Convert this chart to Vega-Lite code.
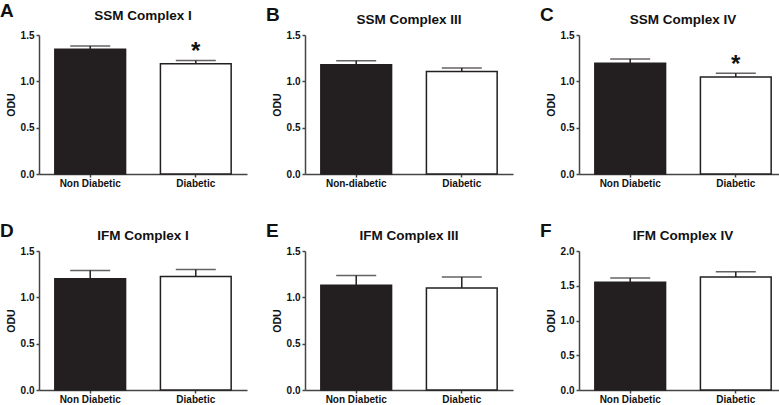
{
  "$schema": "https://vega.github.io/schema/vega-lite/v6.json",
  "padding": {"left": 0, "top": 1, "right": 0, "bottom": 0},
  "background": "white",
  "data": {"values": [
    {"panel": "A", "label": "Non Diabetic", "kind": "ND", "odu": 1.345, "upper": 1.38, "sig": ""},
    {"panel": "A", "label": "Diabetic", "kind": "D", "odu": 1.19, "upper": 1.225, "sig": "*"},
    {"panel": "B", "label": "Non-diabetic", "kind": "ND", "odu": 1.18, "upper": 1.222, "sig": ""},
    {"panel": "B", "label": "Diabetic", "kind": "D", "odu": 1.105, "upper": 1.145, "sig": ""},
    {"panel": "C", "label": "Non Diabetic", "kind": "ND", "odu": 1.195, "upper": 1.24, "sig": ""},
    {"panel": "C", "label": "Diabetic", "kind": "D", "odu": 1.047, "upper": 1.087, "sig": "*"},
    {"panel": "D", "label": "Non Diabetic", "kind": "ND", "odu": 1.2, "upper": 1.29, "sig": ""},
    {"panel": "D", "label": "Diabetic", "kind": "D", "odu": 1.225, "upper": 1.3, "sig": ""},
    {"panel": "E", "label": "Non Diabetic", "kind": "ND", "odu": 1.13, "upper": 1.235, "sig": ""},
    {"panel": "E", "label": "Diabetic", "kind": "D", "odu": 1.1, "upper": 1.22, "sig": ""},
    {"panel": "F", "label": "Non Diabetic", "kind": "ND", "odu": 1.55, "upper": 1.61, "sig": ""},
    {"panel": "F", "label": "Diabetic", "kind": "D", "odu": 1.625, "upper": 1.7, "sig": ""}
  ]},
  "config": {
    "font": "Liberation Sans",
    "view": {"stroke": null},
    "axis": {
      "grid": false,
      "labelFont": "Liberation Sans", "labelFontWeight": "bold", "labelFontSize": 10, "labelColor": "#111",
      "titleFont": "Liberation Sans", "titleFontWeight": "bold", "titleFontSize": 10.5, "titleColor": "#111",
      "domainColor": "#444", "domainWidth": 1.5, "tickColor": "#444", "tickWidth": 1.5, "tickSize": 3
    },
    "title": {"font": "Liberation Sans", "fontWeight": "bold", "color": "#111"}
  },
  "spacing": 33,
  "vconcat": [
    {"hconcat": [
      {"hconcat": [
        {"title": {"text": "A", "anchor": "start", "frame": "bounds", "fontSize": 19, "dy": 16, "dx": -6},
         "vconcat": [{
          "title": {"text": "SSM Complex I", "fontSize": 13.5, "offset": 4},
          "width": 208, "height": 139,
          "transform": [{"filter": "datum.panel == 'A'"}],
          "encoding": {"x": {"field": "label", "type": "nominal", "sort": null, "scale": {"paddingInner": 0.33, "paddingOuter": 0.15}, "axis": {"title": null, "labelAngle": 0, "labelPadding": 1}}},
          "layer": [
            {"mark": {"type": "bar", "stroke": "#231f20", "strokeWidth": 1.5}, "encoding": {"y": {"field": "odu", "type": "quantitative", "scale": {"domain": [0, 1.5], "nice": false}, "axis": {"title": "ODU", "values": [0, 0.5, 1, 1.5], "format": ".1f"}}, "fill": {"field": "kind", "type": "nominal", "scale": {"domain": ["ND", "D"], "range": ["#231f20", "#ffffff"]}, "legend": null}}},
            {"mark": {"type": "rule", "strokeWidth": 1.5, "color": "#231f20"}, "encoding": {"y": {"field": "odu", "type": "quantitative", "axis": {"title": "ODU", "values": [0, 0.5, 1, 1.5], "format": ".1f"}}, "y2": {"field": "upper"}}},
            {"mark": {"type": "tick", "thickness": 1.5, "size": 40, "color": "#231f20"}, "encoding": {"y": {"field": "upper", "type": "quantitative", "axis": {"title": "ODU", "values": [0, 0.5, 1, 1.5], "format": ".1f"}}}},
            {"mark": {"type": "text", "dy": -8, "fontSize": 24, "fontWeight": "bold", "baseline": "middle", "color": "#111"}, "encoding": {"y": {"field": "upper", "type": "quantitative", "axis": {"title": "ODU", "values": [0, 0.5, 1, 1.5], "format": ".1f"}}, "text": {"field": "sig"}}}
          ]
        }]},
        {"title": {"text": "B", "anchor": "start", "frame": "bounds", "fontSize": 19, "dy": 16, "dx": -6},
         "vconcat": [{
          "title": {"text": "SSM Complex III", "fontSize": 13.5, "offset": 4},
          "width": 208, "height": 139,
          "transform": [{"filter": "datum.panel == 'B'"}],
          "encoding": {"x": {"field": "label", "type": "nominal", "sort": null, "scale": {"paddingInner": 0.33, "paddingOuter": 0.15}, "axis": {"title": null, "labelAngle": 0, "labelPadding": 1}}},
          "layer": [
            {"mark": {"type": "bar", "stroke": "#231f20", "strokeWidth": 1.5}, "encoding": {"y": {"field": "odu", "type": "quantitative", "scale": {"domain": [0, 1.5], "nice": false}, "axis": {"title": "ODU", "values": [0, 0.5, 1, 1.5], "format": ".1f"}}, "fill": {"field": "kind", "type": "nominal", "scale": {"domain": ["ND", "D"], "range": ["#231f20", "#ffffff"]}, "legend": null}}},
            {"mark": {"type": "rule", "strokeWidth": 1.5, "color": "#231f20"}, "encoding": {"y": {"field": "odu", "type": "quantitative", "axis": {"title": "ODU", "values": [0, 0.5, 1, 1.5], "format": ".1f"}}, "y2": {"field": "upper"}}},
            {"mark": {"type": "tick", "thickness": 1.5, "size": 40, "color": "#231f20"}, "encoding": {"y": {"field": "upper", "type": "quantitative", "axis": {"title": "ODU", "values": [0, 0.5, 1, 1.5], "format": ".1f"}}}}
          ]
        }]}
      ], "spacing": 19, "resolve": {"scale": {"x": "independent", "y": "independent"}}},
      {"title": {"text": "C", "anchor": "start", "frame": "bounds", "fontSize": 19, "dy": 16, "dx": -6},
       "vconcat": [{
        "title": {"text": "SSM Complex IV", "fontSize": 13.5, "offset": 4},
        "width": 208, "height": 139,
        "transform": [{"filter": "datum.panel == 'C'"}],
        "encoding": {"x": {"field": "label", "type": "nominal", "sort": null, "scale": {"paddingInner": 0.33, "paddingOuter": 0.15}, "axis": {"title": null, "labelAngle": 0, "labelPadding": 1}}},
        "layer": [
          {"mark": {"type": "bar", "stroke": "#231f20", "strokeWidth": 1.5}, "encoding": {"y": {"field": "odu", "type": "quantitative", "scale": {"domain": [0, 1.5], "nice": false}, "axis": {"title": "ODU", "values": [0, 0.5, 1, 1.5], "format": ".1f"}}, "fill": {"field": "kind", "type": "nominal", "scale": {"domain": ["ND", "D"], "range": ["#231f20", "#ffffff"]}, "legend": null}}},
          {"mark": {"type": "rule", "strokeWidth": 1.5, "color": "#231f20"}, "encoding": {"y": {"field": "odu", "type": "quantitative", "axis": {"title": "ODU", "values": [0, 0.5, 1, 1.5], "format": ".1f"}}, "y2": {"field": "upper"}}},
          {"mark": {"type": "tick", "thickness": 1.5, "size": 40, "color": "#231f20"}, "encoding": {"y": {"field": "upper", "type": "quantitative", "axis": {"title": "ODU", "values": [0, 0.5, 1, 1.5], "format": ".1f"}}}},
          {"mark": {"type": "text", "dy": -8, "fontSize": 24, "fontWeight": "bold", "baseline": "middle", "color": "#111"}, "encoding": {"y": {"field": "upper", "type": "quantitative", "axis": {"title": "ODU", "values": [0, 0.5, 1, 1.5], "format": ".1f"}}, "text": {"field": "sig"}}}
        ]
      }]}
    ], "spacing": 27, "resolve": {"scale": {"x": "independent", "y": "independent"}}},
    {"hconcat": [
      {"hconcat": [
        {"title": {"text": "D", "anchor": "start", "frame": "bounds", "fontSize": 19, "dy": 16, "dx": -6},
         "vconcat": [{
          "title": {"text": "IFM Complex I", "fontSize": 13.5, "offset": 4},
          "width": 208, "height": 139,
          "transform": [{"filter": "datum.panel == 'D'"}],
          "encoding": {"x": {"field": "label", "type": "nominal", "sort": null, "scale": {"paddingInner": 0.33, "paddingOuter": 0.15}, "axis": {"title": null, "labelAngle": 0, "labelPadding": 1}}},
          "layer": [
            {"mark": {"type": "bar", "stroke": "#231f20", "strokeWidth": 1.5}, "encoding": {"y": {"field": "odu", "type": "quantitative", "scale": {"domain": [0, 1.5], "nice": false}, "axis": {"title": "ODU", "values": [0, 0.5, 1, 1.5], "format": ".1f"}}, "fill": {"field": "kind", "type": "nominal", "scale": {"domain": ["ND", "D"], "range": ["#231f20", "#ffffff"]}, "legend": null}}},
            {"mark": {"type": "rule", "strokeWidth": 1.5, "color": "#231f20"}, "encoding": {"y": {"field": "odu", "type": "quantitative", "axis": {"title": "ODU", "values": [0, 0.5, 1, 1.5], "format": ".1f"}}, "y2": {"field": "upper"}}},
            {"mark": {"type": "tick", "thickness": 1.5, "size": 40, "color": "#231f20"}, "encoding": {"y": {"field": "upper", "type": "quantitative", "axis": {"title": "ODU", "values": [0, 0.5, 1, 1.5], "format": ".1f"}}}}
          ]
        }]},
        {"title": {"text": "E", "anchor": "start", "frame": "bounds", "fontSize": 19, "dy": 16, "dx": -6},
         "vconcat": [{
          "title": {"text": "IFM Complex III", "fontSize": 13.5, "offset": 4},
          "width": 208, "height": 139,
          "transform": [{"filter": "datum.panel == 'E'"}],
          "encoding": {"x": {"field": "label", "type": "nominal", "sort": null, "scale": {"paddingInner": 0.33, "paddingOuter": 0.15}, "axis": {"title": null, "labelAngle": 0, "labelPadding": 1}}},
          "layer": [
            {"mark": {"type": "bar", "stroke": "#231f20", "strokeWidth": 1.5}, "encoding": {"y": {"field": "odu", "type": "quantitative", "scale": {"domain": [0, 1.5], "nice": false}, "axis": {"title": "ODU", "values": [0, 0.5, 1, 1.5], "format": ".1f"}}, "fill": {"field": "kind", "type": "nominal", "scale": {"domain": ["ND", "D"], "range": ["#231f20", "#ffffff"]}, "legend": null}}},
            {"mark": {"type": "rule", "strokeWidth": 1.5, "color": "#231f20"}, "encoding": {"y": {"field": "odu", "type": "quantitative", "axis": {"title": "ODU", "values": [0, 0.5, 1, 1.5], "format": ".1f"}}, "y2": {"field": "upper"}}},
            {"mark": {"type": "tick", "thickness": 1.5, "size": 40, "color": "#231f20"}, "encoding": {"y": {"field": "upper", "type": "quantitative", "axis": {"title": "ODU", "values": [0, 0.5, 1, 1.5], "format": ".1f"}}}}
          ]
        }]}
      ], "spacing": 19, "resolve": {"scale": {"x": "independent", "y": "independent"}}},
      {"title": {"text": "F", "anchor": "start", "frame": "bounds", "fontSize": 19, "dy": 16, "dx": -6},
       "vconcat": [{
        "title": {"text": "IFM Complex IV", "fontSize": 13.5, "offset": 4},
        "width": 208, "height": 139,
        "transform": [{"filter": "datum.panel == 'F'"}],
        "encoding": {"x": {"field": "label", "type": "nominal", "sort": null, "scale": {"paddingInner": 0.33, "paddingOuter": 0.15}, "axis": {"title": null, "labelAngle": 0, "labelPadding": 1}}},
        "layer": [
          {"mark": {"type": "bar", "stroke": "#231f20", "strokeWidth": 1.5}, "encoding": {"y": {"field": "odu", "type": "quantitative", "scale": {"domain": [0, 2], "nice": false}, "axis": {"title": "ODU", "values": [0, 0.5, 1, 1.5, 2], "format": ".1f"}}, "fill": {"field": "kind", "type": "nominal", "scale": {"domain": ["ND", "D"], "range": ["#231f20", "#ffffff"]}, "legend": null}}},
          {"mark": {"type": "rule", "strokeWidth": 1.5, "color": "#231f20"}, "encoding": {"y": {"field": "odu", "type": "quantitative", "axis": {"title": "ODU", "values": [0, 0.5, 1, 1.5, 2], "format": ".1f"}}, "y2": {"field": "upper"}}},
          {"mark": {"type": "tick", "thickness": 1.5, "size": 40, "color": "#231f20"}, "encoding": {"y": {"field": "upper", "type": "quantitative", "axis": {"title": "ODU", "values": [0, 0.5, 1, 1.5, 2], "format": ".1f"}}}}
        ]
      }]}
    ], "spacing": 27, "resolve": {"scale": {"x": "independent", "y": "independent"}}}
  ],
  "resolve": {"scale": {"x": "independent", "y": "independent"}}
}
